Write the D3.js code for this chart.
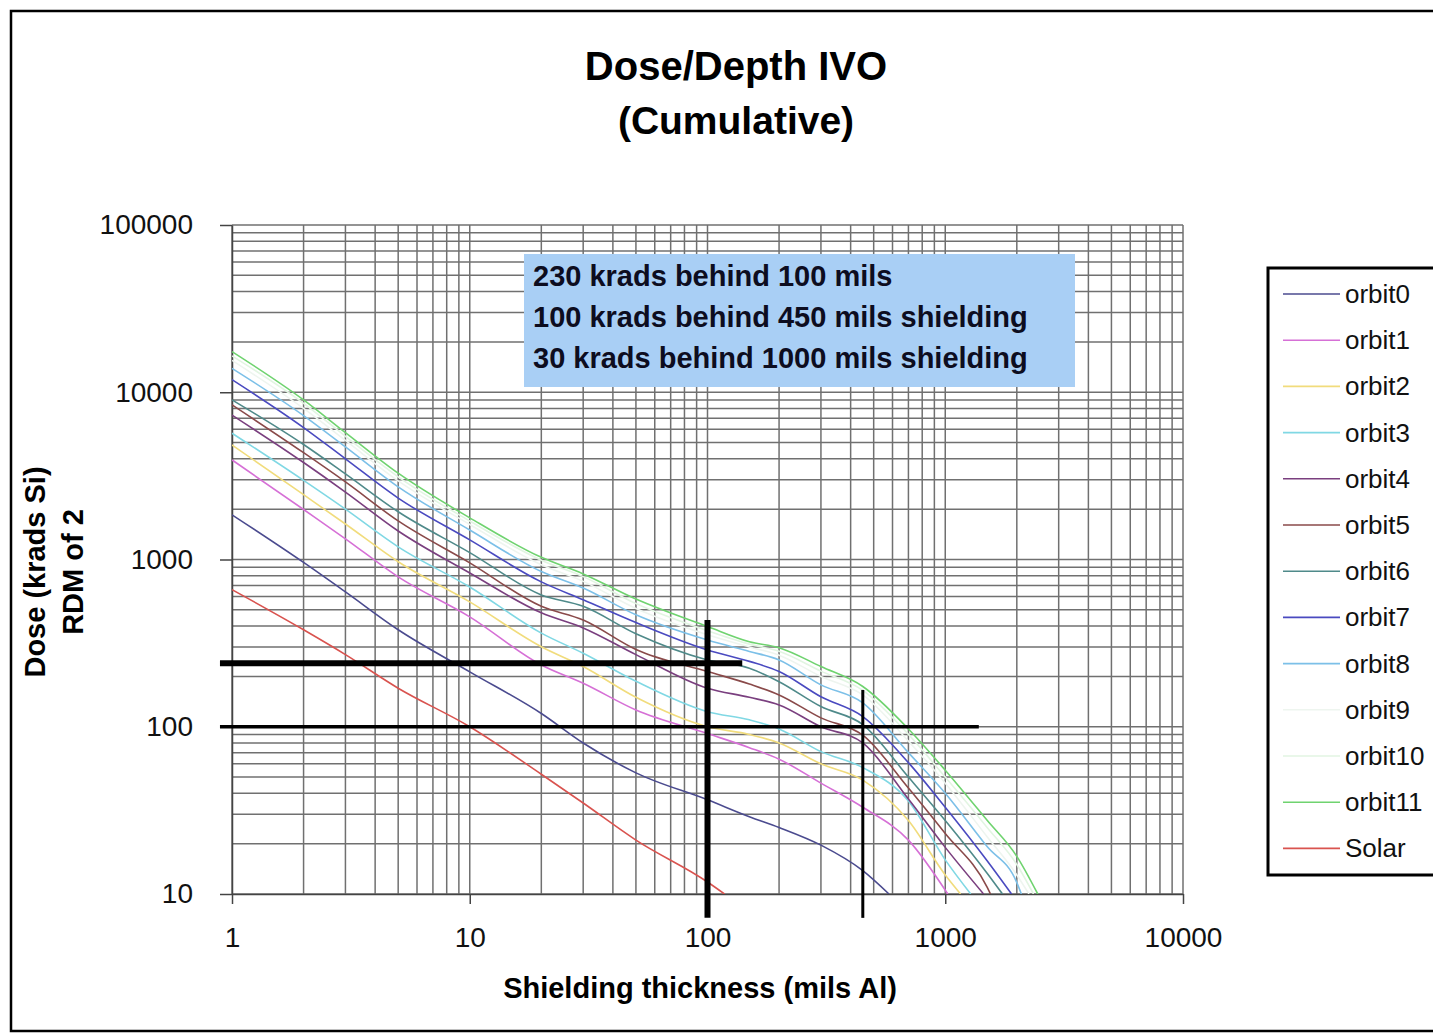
<!DOCTYPE html>
<html><head><meta charset="utf-8">
<script src="https://cdnjs.cloudflare.com/ajax/libs/d3/7.8.5/d3.min.js"></script>
<style>
body{margin:0;background:#fff;}
svg{display:block;font-family:"Liberation Sans",Arial,sans-serif;}
</style>
</head><body>
<svg id="chart" width="1433" height="1034"></svg>
<script>
// ---- data ----
const thickness = [1, 2, 3, 5, 10, 20, 30, 50, 100, 150, 200, 300, 450, 700, 1000, 1500, 2000];
const seriesNames = ["orbit0","orbit1","orbit2","orbit3","orbit4","orbit5","orbit6","orbit7","orbit8","orbit9","orbit10","orbit11","Solar"];
const orbit0  = [1850, 960, 640, 380, 213, 120, 80, 53, 36.6, 29, 25, 19.6, 13.8, null, null, null, null];
const orbit1  = [3940, 1990, 1330, 787, 454, 234, 182, 126, 91, 75, 64, 46, 33, 21, null, null, null];
const orbit2  = [4840, 2440, 1630, 970, 558, 301, 229, 150, 100, 90, 80, 60, 48, 27.5, 13, null, null];
const orbit3  = [5690, 2970, 2000, 1190, 685, 363, 275, 187, 123, 110, 97, 71, 57, 36, 16, null, null];
const orbit4  = [7300, 3800, 2530, 1480, 830, 480, 390, 270, 170, 150, 135, 100, 80, 37, 19, null, null];
const orbit5  = [8400, 4350, 2910, 1700, 955, 525, 435, 290, 214, 180, 155, 113, 89, 43, 23, 11, null];
const orbit6  = [9000, 4870, 3250, 1930, 1100, 614, 525, 360, 251, 224, 186, 132, 103, 50, 27.5, 13.3, null];
const orbit7  = [11900, 6150, 4000, 2330, 1310, 735, 575, 420, 288, 246, 214, 151, 115, 61, 33, 15.8, null];
const orbit8  = [13900, 7250, 4710, 2720, 1500, 847, 675, 467, 330, 282, 251, 178, 139, 70, 40, 19.2, 11.7];
const orbit9  = [15500, 8000, 5150, 2950, 1620, 930, 740, 510, 355, 300, 268, 200, 155, 82, 46, 22, 13];
const orbit10 = [16500, 8580, 5450, 3120, 1700, 990, 790, 545, 375, 312, 283, 215, 165, 90, 50, 25, 15];
const orbit11 = [17500, 9000, 5730, 3280, 1775, 1030, 820, 580, 397, 322, 297, 229, 174, 97, 55, 27.6, 16.8];
const solar   = [660, 380, 270, 170, 100, 52, 35, 21, 11.8, null, null, null, null, null, null, null, null];
// thickness at which each curve falls to 10 krads (bottom of the axis)
const endThickness = [580, 1025, 1160, 1280, 1450, 1550, 1740, 1900, 2090, 2250, 2350, 2450, 118];
const seriesColors = ["#4b4b8f","#d670d6","#f1dc7c","#80d8e4","#7a3f7f","#8a4a4a","#4f8a8a","#4a4ac0","#7cc0e8","#eef5ef","#e2f5e2","#6fd36f","#d9534f"];

const xTickValues = [1, 10, 100, 1000, 10000];
const yTickValues = [10, 100, 1000, 10000, 100000];
const titleLines = ["Dose/Depth IVO", "(Cumulative)"];
const xTitle = "Shielding thickness (mils Al)";
const yTitleLines = ["Dose (krads Si)", "RDM of  2"];
const noteLines = ["230 krads behind 100 mils", "100 krads behind 450 mils shielding", "30 krads behind 1000 mils shielding"];
// reference marks: horizontal [dose, fromThickness, toThickness], vertical [thickness, fromDose, toDose]
const refH = [[240, 0.89, 140], [100, 0.89, 1384]];
const refV = [[100, 7.2, 435], [450, 7.2, 166]];
const refHWidth = [6, 3.5];
const refVWidth = [6, 3];

// ---- drawing ----
const svg = d3.select("#chart");
const x = d3.scaleLog().domain([1, 10000]).range([232, 1183]);
const y = d3.scaleLog().domain([10, 100000]).range([894, 225]);

// outer frame
svg.append("rect").attr("x", 11).attr("y", 11).attr("width", 1450).attr("height", 1020)
  .attr("fill", "#fff").attr("stroke", "#000").attr("stroke-width", 2.5);

// title
svg.selectAll("text.title").data(titleLines).join("text").attr("class", "title")
  .attr("x", 736).attr("y", (d, i) => 80 + i * 54)
  .attr("text-anchor", "middle").attr("font-size", (d, i) => i === 0 ? 40 : 39)
  .attr("font-weight", "bold").text(d => d);

// gridlines
const grid = svg.append("g");
grid.selectAll("line.vx").data(x.ticks()).join("line").attr("class", "vx")
  .attr("x1", d => x(d)).attr("x2", d => x(d)).attr("y1", y(100000)).attr("y2", y(10))
  .attr("stroke", "#707070").attr("stroke-width", 1.5);
grid.selectAll("line.hy").data(y.ticks()).join("line").attr("class", "hy")
  .attr("y1", d => y(d)).attr("y2", d => y(d)).attr("x1", x(1)).attr("x2", x(10000))
  .attr("stroke", "#707070").attr("stroke-width", 1.5);

// axes
const yAxis = svg.append("g").attr("transform", `translate(${x(1)},0)`)
  .call(d3.axisLeft(y).tickValues(yTickValues).tickSize(12).tickSizeOuter(0).tickPadding(27).tickFormat(d3.format("d")));
const xAxis = svg.append("g").attr("transform", `translate(0,${y(10)})`)
  .call(d3.axisBottom(x).tickValues(xTickValues).tickSize(10).tickSizeOuter(0).tickPadding(23).tickFormat(d3.format("d")));
[yAxis, xAxis].forEach(a => {
  a.selectAll("text").attr("font-size", 28).attr("fill", "#111").attr("font-family", "Liberation Sans, Arial, sans-serif");
  a.selectAll("line").attr("stroke", "#444").attr("stroke-width", 1.5);
  a.select(".domain").attr("stroke", "#444").attr("stroke-width", 1.5);
});

// axis titles
svg.append("text").attr("x", 700).attr("y", 998).attr("text-anchor", "middle")
  .attr("font-size", 29).attr("font-weight", "bold").text(xTitle);
svg.selectAll("text.ytitle").data(yTitleLines).join("text").attr("class", "ytitle")
  .attr("transform", (d, i) => `translate(${45 + i * 38},572) rotate(-90)`)
  .attr("text-anchor", "middle").attr("font-size", 29).attr("font-weight", "bold").text(d => d);

// curves
svg.append("clipPath").attr("id", "plotclip").append("rect")
  .attr("x", x(1)).attr("y", y(100000)).attr("width", x(10000) - x(1)).attr("height", y(10) - y(100000));
const allSeries = [orbit0, orbit1, orbit2, orbit3, orbit4, orbit5, orbit6, orbit7, orbit8, orbit9, orbit10, orbit11, solar];
const line = d3.line().x(d => x(d[0])).y(d => y(d[1])).curve(d3.curveMonotoneX);
const curves = allSeries.map((vals, i) => {
  const pts = thickness.map((t, j) => [t, vals[j]]).filter(p => p[1] != null);
  pts.push([endThickness[i], 10]);
  return pts;
});
svg.append("g").attr("clip-path", "url(#plotclip)")
  .selectAll("path").data(curves).join("path")
  .attr("d", line).attr("fill", "none")
  .attr("stroke", (d, i) => seriesColors[i]).attr("stroke-width", 1.6);

// reference lines
svg.selectAll("line.refh").data(refH).join("line").attr("class", "refh")
  .attr("x1", d => x(d[1])).attr("x2", d => x(d[2])).attr("y1", d => y(d[0])).attr("y2", d => y(d[0]))
  .attr("stroke", "#000").attr("stroke-width", (d, i) => refHWidth[i]);
svg.selectAll("line.refv").data(refV).join("line").attr("class", "refv")
  .attr("x1", d => x(d[0])).attr("x2", d => x(d[0])).attr("y1", d => y(d[1])).attr("y2", d => y(d[2]))
  .attr("stroke", "#000").attr("stroke-width", (d, i) => refVWidth[i]);

// annotation box
svg.append("rect").attr("x", 524).attr("y", 254).attr("width", 551).attr("height", 133).attr("fill", "#a9cff5");
svg.selectAll("text.note").data(noteLines).join("text").attr("class", "note")
  .attr("x", 533).attr("y", (d, i) => 286 + i * 41)
  .attr("font-size", 29).attr("font-weight", "bold").attr("fill", "#0d0d1f").text(d => d);

// legend
const lg = svg.append("g");
lg.append("rect").attr("x", 1268).attr("y", 268).attr("width", 200).attr("height", 607)
  .attr("fill", "#fff").attr("stroke", "#000").attr("stroke-width", 3);
const items = lg.selectAll("g.item").data(seriesNames).join("g").attr("class", "item")
  .attr("transform", (d, i) => `translate(0,${294 + i * 46.2})`);
items.append("line").attr("x1", 1283).attr("x2", 1340).attr("y1", 0).attr("y2", 0)
  .attr("stroke", (d, i) => seriesColors[i]).attr("stroke-width", 1.6);
items.append("text").attr("x", 1345).attr("y", 9).attr("font-size", 26).attr("fill", "#111").text(d => d);
</script>
</body></html>
